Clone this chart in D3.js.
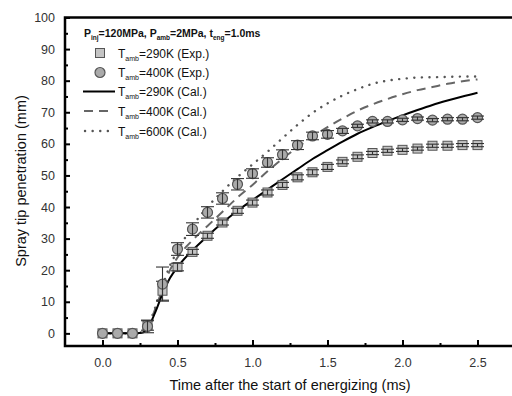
<!DOCTYPE html>
<html>
<head>
<meta charset="utf-8">
<script src="https://cdn.jsdelivr.net/npm/d3@7"></script>
<style>
  body { margin: 0; background: #fff; }
  svg { display: block; font-family: "Liberation Sans", Arial, sans-serif; }
</style>
</head>
<body>
<div id="chart"></div>
<script>
// measured points (every 0.1 ms)
var expTimes = [0, 0.1, 0.2, 0.3, 0.4, 0.5, 0.6, 0.7, 0.8, 0.9, 1.0, 1.1, 1.2, 1.3, 1.4, 1.5, 1.6, 1.7, 1.8, 1.9, 2.0, 2.1, 2.2, 2.3, 2.4, 2.5];
var exp290 = [0, 0, 0, 2.5, 13.5, 21, 25.8, 30.9, 35.1, 38.8, 41.4, 44.6, 47, 49.4, 51, 52.7, 54.3, 55.9, 57.1, 57.8, 58.1, 58.5, 59.4, 59.4, 59.6, 59.6];
var exp290Err = [0, 0, 0, 1.5, 3, 1.2, 0.8, 0.8, 0.8, 0.8, 0.8, 0.8, 0.8, 0.8, 0.8, 0.8, 0.6, 0.6, 0.5, 0.5, 0.5, 0.5, 0.5, 0.5, 0.5, 0.5];
var exp400 = [0, 0, 0, 2.2, 15.6, 26.7, 33, 38.3, 42.7, 47.2, 50.6, 54.1, 56.6, 59.6, 62.5, 63, 64.1, 65.7, 67.1, 67.1, 67.6, 68, 67.5, 67.8, 67.8, 68.3];
var exp400Err = [0, 0, 0, 2, 5.4, 2, 2, 1.8, 1.8, 1.8, 1.5, 1.5, 1.5, 1.4, 1.2, 1.2, 0.8, 0.5, 0.5, 0.5, 0.5, 0.5, 0.5, 0.5, 0.5, 0.5];

// calculated curves
var calTimes = [0, 0.2, 0.27, 0.3, 0.35, 0.4, 0.45, 0.5, 0.6, 0.7, 0.8, 0.9, 1.0, 1.1, 1.2, 1.3, 1.4, 1.5, 1.6, 1.7, 1.8, 1.9, 2.0, 2.1, 2.2, 2.3, 2.4, 2.5];
var cal290 = [0, 0, 0.3, 1.5, 6.5, 12.5, 17.5, 21, 26.3, 30.8, 35, 38.8, 42.2, 45.5, 48.8, 52, 55.2, 58, 60.7, 63.2, 65.3, 67.2, 69, 70.7, 72.3, 73.7, 75, 76.2];
var cal400 = [0, 0, 0.3, 1.8, 7.5, 14, 20, 24, 29.5, 34, 38.5, 43, 47, 51.3, 55.3, 58.9, 62.3, 65.3, 68, 70.5, 72.5, 74.2, 75.7, 77, 78, 79, 79.8, 80.4];
var cal600 = [0, 0, 0.3, 2, 8, 15, 21.5, 26, 34, 40, 45, 49.5, 53.5, 57.5, 61.8, 66, 69.8, 72.8, 75.3, 77.3, 79, 80, 80.6, 81, 81.1, 81.2, 81.3, 81.3];

var xTicks = [0, 0.5, 1.0, 1.5, 2.0, 2.5];
var yTicks = [0, 10, 20, 30, 40, 50, 60, 70, 80, 90, 100];

var width = 512, height = 396;
var pLeft = 65, pTop = 17.5, pRight = 515, pBottom = 346;

var svg = d3.select("#chart").append("svg")
    .attr("width", width)
    .attr("height", height);

var x = d3.scaleLinear().domain([-0.25, 2.75]).range([pLeft, pRight]);
var y = d3.scaleLinear().domain([-4, 100]).range([pBottom, pTop]);

// axes, ticks inside
svg.append("g")
    .attr("transform", "translate(0," + pBottom + ")")
    .call(d3.axisBottom(x).tickValues(xTicks).tickSize(-6).tickPadding(12).tickFormat(d3.format(".1f")));
svg.append("g")
    .attr("transform", "translate(0," + pBottom + ")")
    .call(d3.axisBottom(x).tickValues([0.25, 0.75, 1.25, 1.75, 2.25]).tickSize(-3).tickFormat(""));
svg.append("g")
    .attr("transform", "translate(" + pLeft + ",0)")
    .call(d3.axisLeft(y).tickValues(yTicks).tickSize(-5).tickPadding(10));
svg.append("g")
    .attr("transform", "translate(" + pLeft + ",0)")
    .call(d3.axisLeft(y).tickValues(d3.range(5, 100, 10)).tickSize(-3).tickFormat(""));

svg.selectAll(".domain").remove();
svg.selectAll(".tick line").attr("stroke", "#000").attr("stroke-width", 2);
svg.selectAll(".tick text").attr("fill", "#333").style("font-size", "12.5px");

svg.append("rect")
    .attr("x", pLeft).attr("y", pTop)
    .attr("width", pRight - pLeft).attr("height", pBottom - pTop)
    .attr("fill", "none").attr("stroke", "#000").attr("stroke-width", 2.5);

svg.append("text")
    .attr("x", 290).attr("y", 390)
    .attr("text-anchor", "middle")
    .attr("fill", "#111")
    .style("font-size", "14.5px")
    .text("Time after the start of energizing (ms)");
svg.append("text")
    .attr("transform", "translate(26,181) rotate(-90)")
    .attr("text-anchor", "middle")
    .attr("fill", "#111")
    .style("font-size", "14.5px")
    .text("Spray tip penetration (mm)");

// calculated lines
var line = d3.line()
    .x(d => x(d[0]))
    .y(d => y(d[1]))
    .curve(d3.curveMonotoneX);

var calSeries = [
    { vals: cal600, color: "#555", dash: "0.1,7.5", cap: "round", w: 2.4 },
    { vals: cal400, color: "#666", dash: "9,6", cap: "butt", w: 2 },
    { vals: cal290, color: "#000", dash: null, cap: "butt", w: 2 }
];
calSeries.forEach(s => {
    svg.append("path")
        .datum(calTimes.map((t, i) => [t, s.vals[i]]))
        .attr("fill", "none")
        .attr("stroke", s.color)
        .attr("stroke-width", s.w)
        .attr("stroke-linecap", s.cap)
        .attr("stroke-dasharray", s.dash)
        .attr("d", line);
});

// error bars
function errorBars(vals, errs) {
    var g = svg.append("g").attr("stroke", "#333").attr("stroke-width", 1.1);
    expTimes.forEach((t, i) => {
        if (!errs[i]) return;
        var cx = x(t), y0 = y(vals[i] - errs[i]), y1 = y(vals[i] + errs[i]);
        g.append("line").attr("x1", cx).attr("x2", cx).attr("y1", y0).attr("y2", y1);
        g.append("line").attr("x1", cx - 6.5).attr("x2", cx + 6.5).attr("y1", y0).attr("y2", y0);
        g.append("line").attr("x1", cx - 6.5).attr("x2", cx + 6.5).attr("y1", y1).attr("y2", y1);
    });
}

svg.append("g").selectAll("rect")
    .data(expTimes.map((t, i) => [t, exp290[i]]))
    .join("rect")
    .attr("x", d => x(d[0]) - 4.5)
    .attr("y", d => y(d[1]) - 4.5)
    .attr("width", 9).attr("height", 9)
    .attr("fill", "#c4c4c4")
    .attr("stroke", "#555")
    .attr("stroke-width", 1);
errorBars(exp290, exp290Err);

svg.append("g").selectAll("circle")
    .data(expTimes.map((t, i) => [t, exp400[i]]))
    .join("circle")
    .attr("cx", d => x(d[0]))
    .attr("cy", d => y(d[1]))
    .attr("r", 5)
    .attr("fill", "#aaa")
    .attr("stroke", "#555")
    .attr("stroke-width", 1.2);
errorBars(exp400, exp400Err);

// legend
var lg = svg.append("g").attr("fill", "#111");
var head = lg.append("text").attr("x", 84).attr("y", 37).style("font-size", "10.5px").style("font-weight", "bold");
head.append("tspan").text("P");
head.append("tspan").attr("dy", 3).style("font-size", "6.5px").text("inj");
head.append("tspan").attr("dy", -3).text("=120MPa, P");
head.append("tspan").attr("dy", 3).style("font-size", "6.5px").text("amb");
head.append("tspan").attr("dy", -3).text("=2MPa, t");
head.append("tspan").attr("dy", 3).style("font-size", "6.5px").text("eng");
head.append("tspan").attr("dy", -3).text("=1.0ms");

var legendRows = ["290K (Exp.)", "400K (Exp.)", "290K (Cal.)", "400K (Cal.)", "600K (Cal.)"];
var rowY = [53, 72.5, 91.5, 111, 131];
legendRows.forEach((label, i) => {
    var t = lg.append("text").attr("x", 118).attr("y", rowY[i] + 4.5).style("font-size", "12px");
    t.append("tspan").text("T");
    t.append("tspan").attr("dy", 3).style("font-size", "7px").text("amb");
    t.append("tspan").attr("dy", -3).text("=" + label);
});
lg.append("rect").attr("x", 95.5).attr("y", rowY[0] - 4.5).attr("width", 9).attr("height", 9)
    .attr("fill", "#c4c4c4").attr("stroke", "#555");
lg.append("circle").attr("cx", 100).attr("cy", rowY[1]).attr("r", 5)
    .attr("fill", "#aaa").attr("stroke", "#555").attr("stroke-width", 1.2);
lg.append("line").attr("x1", 83).attr("x2", 115).attr("y1", rowY[2]).attr("y2", rowY[2])
    .attr("stroke", "#000").attr("stroke-width", 2);
lg.append("line").attr("x1", 84).attr("x2", 113).attr("y1", rowY[3]).attr("y2", rowY[3])
    .attr("stroke", "#666").attr("stroke-width", 2).attr("stroke-dasharray", "9,6");
lg.append("line").attr("x1", 85).attr("x2", 114).attr("y1", rowY[4]).attr("y2", rowY[4])
    .attr("stroke", "#555").attr("stroke-width", 2.4).attr("stroke-linecap", "round").attr("stroke-dasharray", "0.1,7.5");
</script>
</body>
</html>
